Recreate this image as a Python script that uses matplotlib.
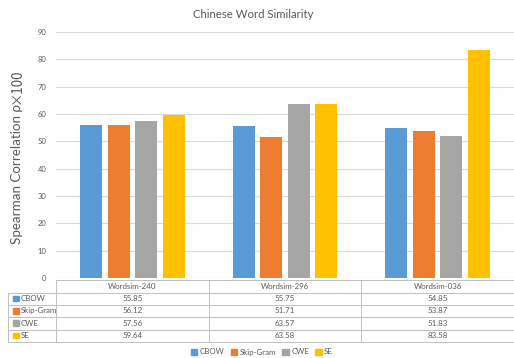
import matplotlib
matplotlib.use("Agg")
import matplotlib.pyplot as plt
from matplotlib.patches import Rectangle
import numpy as np

categories = ["Wordsim-240", "Wordsim-296", "Wordsim-036"]
series = ["CBOW", "Skip-Gram", "CWE", "SE"]
cbow = [55.85, 55.75, 54.85]
skipgram = [56.12, 51.71, 53.87]
cwe = [57.56, 63.57, 51.83]
se = [59.64, 63.58, 83.58]
values = [cbow, skipgram, cwe, se]
colors = ["#5B9BD5", "#ED7D31", "#A5A5A5", "#FFC000"]
yticks = [0, 10, 20, 30, 40, 50, 60, 70, 80, 90]

plt.rcParams['font.family'] = ['Lato', 'Noto Sans CJK SC', 'DejaVu Sans']
TXT = "#595959"
GRID = "#D9D9D9"
BORDER = "#BFBFBF"

W, H = 514, 358
fig = plt.figure(figsize=(W / 100, H / 100), dpi=100)

def fx(px):
    return px / W

def fy(py):
    return 1 - py / H

ax_left, ax_right, ax_top, ax_bot = 56, 514, 32, 278
ax = fig.add_axes([fx(ax_left), fy(ax_bot), fx(ax_right - ax_left), (ax_bot - ax_top) / H])
n = len(categories)
x = np.arange(n)
bw = 0.144
step = 0.181
for i, (name, vals, c) in enumerate(zip(series, values, colors)):
    ax.bar(x + (i - 1.5) * step, vals, width=bw, color=c, zorder=3, label=name)
ax.set_xlim(-0.5, n - 0.5)
ax.set_ylim(0, 90)
ax.set_yticks(yticks)
ax.set_yticklabels([str(t) for t in yticks], fontsize=5.5, color=TXT)
ax.tick_params(axis='y', length=0, pad=7)
ax.set_xticks([])
ax.grid(axis='y', color=GRID, linewidth=0.8, zorder=0)
for s in ax.spines.values():
    s.set_visible(False)
ax.axhline(0, color=GRID, linewidth=0.8, zorder=1)

fig.text(fx(253), fy(15), "Chinese Word Similarity", ha='center', va='center', fontsize=8.2, color=TXT)
split_y = 104
fig.text(fx(17), fy(split_y), "Spearman Correlation ρ", rotation=90, ha='center', va='top',
         fontsize=9.6, color=TXT)
fig.text(fx(17), fy(split_y), "×100", rotation=90, ha='center', va='bottom',
         fontsize=9.6, color=TXT, family=['Noto Sans CJK SC', 'Lato'])

# table
rows_y = [280, 292.5, 304.5, 317, 329.5, 341.5]
col_x = [ax_left + (ax_right - ax_left) * k / n for k in range(n + 1)]
lab_left = 8
tab = fig.add_axes([0, 0, 1, 1], facecolor='none')
tab.set_xlim(0, W)
tab.set_ylim(H, 0)
tab.axis('off')
lw = 0.7
tab.plot([col_x[0], W - 0.5], [rows_y[0]] * 2, color=BORDER, lw=lw)
for yy in rows_y[1:]:
    tab.plot([lab_left, W - 0.5], [yy, yy], color=BORDER, lw=lw)
for xx in col_x[:-1]:
    tab.plot([xx, xx], [rows_y[0], rows_y[-1]], color=BORDER, lw=lw)
tab.plot([W - 0.5, W - 0.5], [rows_y[0], rows_y[-1]], color=BORDER, lw=lw)
tab.plot([lab_left, lab_left], [rows_y[1], rows_y[-1]], color=BORDER, lw=lw)
for k, cat in enumerate(categories):
    tab.text((col_x[k] + col_x[k + 1]) / 2, (rows_y[0] + rows_y[1]) / 2, cat,
             ha='center', va='center', fontsize=5.7, color=TXT)
for r, (name, vals, c) in enumerate(zip(series, values, colors)):
    yc = (rows_y[r + 1] + rows_y[r + 2]) / 2
    tab.add_patch(Rectangle((lab_left + 5, yc - 2.8), 5.6, 5.6, color=c))
    tab.text(lab_left + 12.5, yc, name, ha='left', va='center', fontsize=5.7, color=TXT)
    for k, v in enumerate(vals):
        tab.text((col_x[k] + col_x[k + 1]) / 2, yc, f"{v:.2f}", ha='center', va='center',
                 fontsize=5.7, color=TXT)

handles = [Rectangle((0, 0), 1, 1, color=c) for c in colors]
fig.legend(handles, series, loc='center', bbox_to_anchor=(fx(262), fy(352)), ncol=4,
           frameon=False, fontsize=5.7, handlelength=0.8, handleheight=0.8, handletextpad=0.3,
           columnspacing=0.8, labelcolor=TXT)

fig.savefig("out.png", dpi=100)
